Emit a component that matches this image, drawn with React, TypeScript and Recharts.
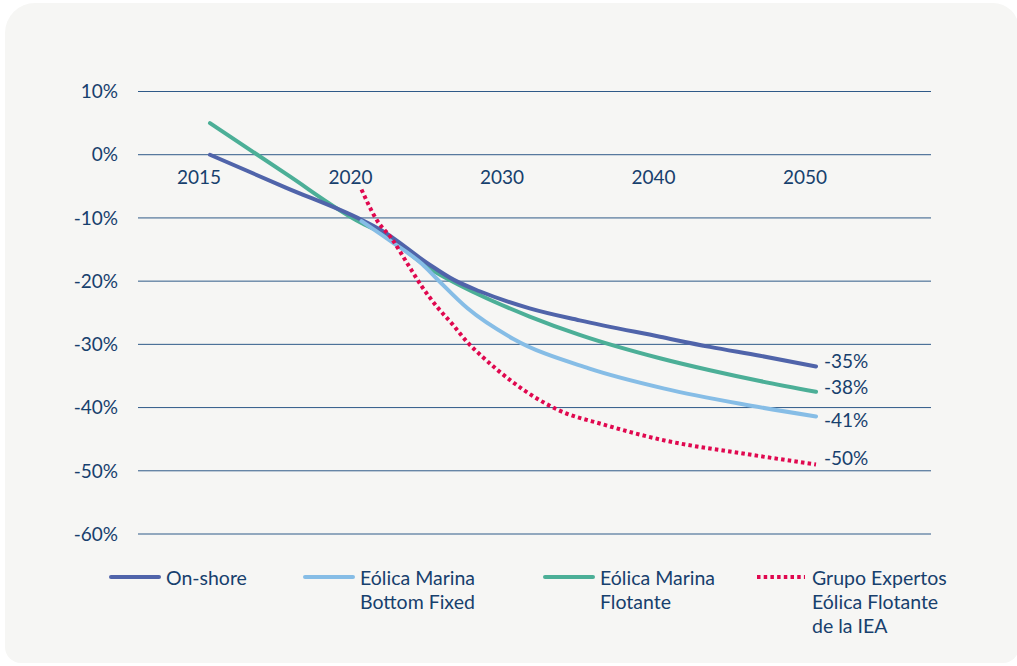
import { LineChart, Line, XAxis, YAxis, CartesianGrid, Legend, LabelList } from 'recharts';

// category axis is not uniform: 2015 -> 2020 takes the same room as one decade
const xLabels = ['2015', '2020', '2030', '2040', '2050'];
const yTicks = [10, 0, -10, -20, -30, -40, -50, -60];

const onshoreYears = [2015, 2017.5, 2020, 2021.2, 2024.5, 2026.1, 2027.8, 2031.1, 2034.4, 2039.7, 2043, 2046.3, 2050];
const onshoreValues = [0, -5.2, -10.3, -11.8, -17.4, -19.8, -21.6, -24.3, -26.2, -28.8, -30.4, -31.8, -33.5];

const bottomFixedYears = [2020, 2022, 2024, 2025, 2027, 2030, 2035, 2040, 2045, 2050];
const bottomFixedValues = [-10.5, -13.8, -17.3, -19.7, -24.3, -29.1, -33.8, -37.0, -39.4, -41.4];

const flotanteYears = [2015, 2017.5, 2020, 2021.2, 2024.5, 2027.8, 2031.1, 2034.4, 2039.7, 2043, 2046.3, 2050];
const flotanteValues = [5, -3.0, -10.8, -12.2, -18.0, -22.2, -25.6, -28.5, -32.2, -34.1, -35.8, -37.5];

const ieaYears = [2020, 2021, 2022, 2023, 2024, 2025, 2026, 2027, 2028, 2030, 2033, 2036, 2040, 2045, 2050];
const ieaValues = [-5.5, -10.3, -13.3, -17.1, -20.9, -24.1, -26.8, -29.7, -32.0, -36.0, -40.4, -42.7, -45.2, -47.2, -49.0];

const endLabels = ['-35%', '-41%', '-38%', '-50%'];
const legendLines = [
  ['On-shore'],
  ['Eólica Marina', 'Bottom Fixed'],
  ['Eólica Marina', 'Flotante'],
  ['Grupo Expertos', 'Eólica Flotante', 'de la IEA'],
];

const toPos = (year: number) => (year <= 2020 ? (year - 2015) / 5 : 1 + (year - 2020) / 10);
const build = (years: number[], values: number[]) => years.map((y, i) => ({ pos: toPos(y), value: values[i] }));

const FONT = 'Lato, "Open Sans", sans-serif';
const TEXT = '#17406d';

const series = [
  { key: 'onshore', data: build(onshoreYears, onshoreValues), color: '#5064aa', dash: undefined, label: endLabels[0], dy: -5 },
  { key: 'bottom', data: build(bottomFixedYears, bottomFixedValues), color: '#86bde6', dash: undefined, label: endLabels[1], dy: 4 },
  { key: 'flotante', data: build(flotanteYears, flotanteValues), color: '#4caf97', dash: undefined, label: endLabels[2], dy: -4 },
  { key: 'iea', data: build(ieaYears, ieaValues), color: '#e0084f', dash: '3.5 3.2', label: endLabels[3], dy: -6 },
];
// drawing order (legend keeps its own order)
const drawOrder = ['flotante', 'onshore', 'bottom', 'iea'];

const XTick = ({ x, payload }: any) => (
  <text x={x - 11} y={177} dy="0.35em" textAnchor="middle" fill={TEXT} fontSize={19} fontFamily={FONT}>
    {xLabels[payload.value]}
  </text>
);

const endLabel = (text: string, count: number, dy: number) => (props: any) => {
  if (props.index !== count - 1) return null;
  return (
    <text x={props.x + 8} y={props.y + dy} dy="0.35em" fill={TEXT} fontSize={19} fontFamily={FONT}>
      {text}
    </text>
  );
};

const legendLeft = [109, 303, 543, 755];

const LegendContent = () => (
  <div style={{ position: 'relative', height: 80, fontFamily: FONT, fontSize: 19.5, color: TEXT, lineHeight: '24px' }}>
    {series.map((s, i) => (
      <div key={s.key} style={{ position: 'absolute', left: legendLeft[i], top: 0, display: 'flex' }}>
        <svg width={52} height={24} style={{ flex: 'none' }}>
          <line x1={2} y1={11} x2={50} y2={11} stroke={s.color} strokeWidth={4}
            strokeLinecap={s.dash ? 'butt' : 'round'} strokeDasharray={s.dash} />
        </svg>
        <div style={{ marginLeft: 5, whiteSpace: 'nowrap' }}>
          {legendLines[i].map((l) => <div key={l}>{l}</div>)}
        </div>
      </div>
    ))}
  </div>
);

export default function App() {
  return (
    <div style={{ position: 'absolute', left: 0, top: 0, width: 1017, height: 666, background: '#fff', overflow: 'hidden' }}>
      <style>{'body{margin:0}'}</style>
      <div style={{ position: 'absolute', left: 5, top: 3, width: 1014, height: 660, background: '#f6f6f4', borderRadius: '30px 26px 16px 16px' }} />
      <div style={{ position: 'absolute', left: 0, top: 0 }}>
        <LineChart width={1017} height={666} margin={{ top: 91.5, right: 86, bottom: 102, left: 0 }}>
          <CartesianGrid vertical={false} stroke="#2f5a88" strokeWidth={1} />
          <XAxis type="number" dataKey="pos" domain={[-0.475, 4.759]} ticks={[0, 1, 2, 3, 4]} interval={0}
            axisLine={false} tickLine={false} height={30} tick={<XTick />} allowDataOverflow />
          <YAxis type="number" domain={[-60, 10]} ticks={yTicks} width={138} axisLine={false} tickLine={false}
            tickSize={0} tickMargin={20} tickFormatter={(v) => `${v}%`}
            tick={{ fill: TEXT, fontSize: 19, fontFamily: FONT }} />
          <Legend layout="horizontal" verticalAlign="middle" align="center" content={<LegendContent />}
            wrapperStyle={{ position: 'absolute', left: 0, top: 566, width: 1017, height: 80 }} />
          {drawOrder.map((k) => {
            const s = series.find((x) => x.key === k)!;
            return (
              <Line key={s.key} data={s.data} dataKey="value" type="monotone" stroke={s.color} strokeWidth={4}
                strokeDasharray={s.dash} strokeLinecap={s.dash ? 'butt' : 'round'} dot={false}
                activeDot={false} isAnimationActive={false}>
                <LabelList dataKey="value" content={endLabel(s.label, s.data.length, s.dy)} />
              </Line>
            );
          })}
        </LineChart>
      </div>
    </div>
  );
}
